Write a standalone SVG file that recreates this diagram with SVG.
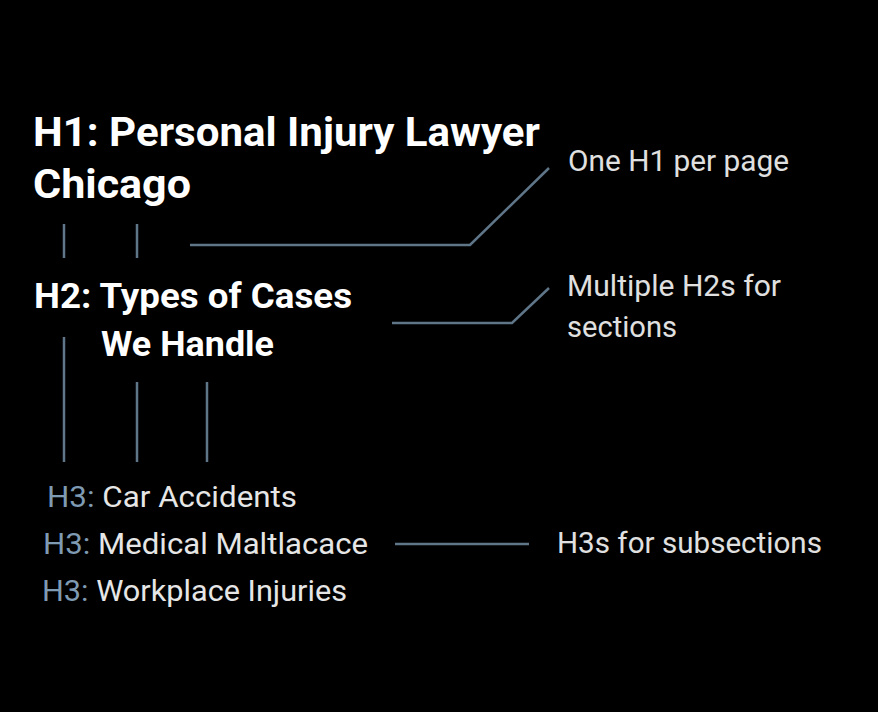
<svg xmlns="http://www.w3.org/2000/svg" width="878" height="712" viewBox="0 0 878 712">
<style>
.h1{font-family:Roboto,"Liberation Sans",sans-serif;font-weight:700;font-size:41px;fill:#ffffff}
.h2{font-family:Roboto,"Liberation Sans",sans-serif;font-weight:700;font-size:35px;fill:#ffffff}
.h3{font-family:Roboto,"Liberation Sans",sans-serif;font-size:29.5px;fill:#e6e6e6}
.pre{fill:#7f9ab3}
.note{font-family:Roboto,"Liberation Sans",sans-serif;font-size:29px;fill:#e0e0e0}
.ln{stroke:#5f7588;stroke-width:2.5;fill:none}
</style>
<rect width="878" height="712" fill="#000"/>
<g id="h1">
<text class="h1" x="33" y="146" textLength="507" lengthAdjust="spacingAndGlyphs">H1: Personal Injury Lawyer</text>
<text class="h1" x="33" y="198" textLength="158" lengthAdjust="spacingAndGlyphs">Chicago</text>
</g>
<g id="h2">
<text class="h2" x="34" y="308" textLength="318" lengthAdjust="spacingAndGlyphs">H2: Types of Cases</text>
<text class="h2" x="101" y="356" textLength="173" lengthAdjust="spacingAndGlyphs">We Handle</text>
</g>
<g id="h3-car"><text class="h3" x="47" y="507" textLength="250" lengthAdjust="spacingAndGlyphs"><tspan class="pre">H3:</tspan> Car Accidents</text></g>
<g id="h3-med"><text class="h3" x="43" y="554" textLength="325" lengthAdjust="spacingAndGlyphs"><tspan class="pre">H3:</tspan> Medical Maltlacace</text></g>
<g id="h3-work"><text class="h3" x="42" y="601" textLength="305" lengthAdjust="spacingAndGlyphs"><tspan class="pre">H3:</tspan> Workplace Injuries</text></g>
<g id="note-h1"><text class="note" x="568" y="171" textLength="221" lengthAdjust="spacingAndGlyphs">One H1 per page</text></g>
<g id="note-h2"><text class="note" x="567" y="296" textLength="214" lengthAdjust="spacingAndGlyphs">Multiple H2s for</text><text class="note" x="567" y="337" textLength="110" lengthAdjust="spacingAndGlyphs">sections</text></g>
<g id="note-h3"><text class="note" x="557" y="553" textLength="265" lengthAdjust="spacingAndGlyphs">H3s for subsections</text></g>
<g id="connectors">
<line class="ln" x1="64" y1="224" x2="64" y2="258"/>
<line class="ln" x1="137" y1="224" x2="137" y2="258"/>
<polyline class="ln" points="190,245 470,245 549,168"/>
<polyline class="ln" points="392,323 512,323 549,288"/>
<line class="ln" x1="64" y1="337" x2="64" y2="462"/>
<line class="ln" x1="137" y1="382" x2="137" y2="462"/>
<line class="ln" x1="207" y1="382" x2="207" y2="462"/>
<line class="ln" x1="395" y1="544" x2="529" y2="544"/>
</g>
</svg>
